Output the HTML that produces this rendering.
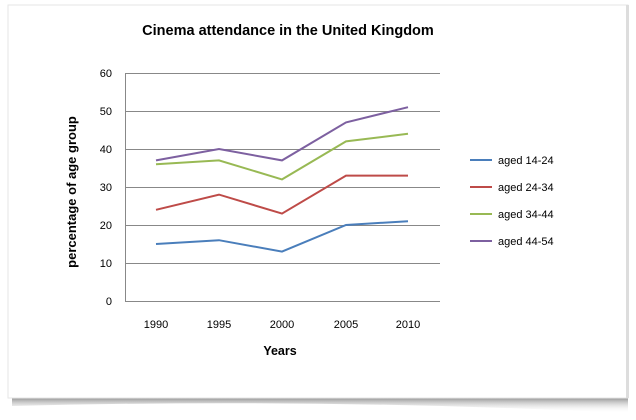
<!DOCTYPE html>
<html><head><style>
body{margin:0;width:636px;height:415px;background:#fff;overflow:hidden;font-family:"Liberation Sans",sans-serif}
</style></head><body>
<svg width="636" height="415" xmlns="http://www.w3.org/2000/svg">
<defs><linearGradient id="sh" x1="0" y1="0" x2="0" y2="1"><stop offset="0" stop-color="#888"/><stop offset="1" stop-color="#fff" stop-opacity="0"/></linearGradient></defs>
<rect x="0" y="0" width="636" height="415" fill="#fff"/>
<path d="M12 397 L628 397 L628 413 Q320 398 12 406 Z" fill="url(#sh)"/>
<rect x="8" y="5" width="620" height="393" fill="#fff" stroke="#e6e6e6" stroke-width="1"/>
<rect x="626" y="5" width="3" height="393" fill="#ddd"/>
<text x="288" y="35" text-anchor="middle" font-size="14.5" font-weight="bold">Cinema attendance in the United Kingdom</text>
<g stroke="#888" stroke-width="1">
<line x1="125" y1="73.5" x2="440" y2="73.5"/><line x1="125" y1="111.5" x2="440" y2="111.5"/>
<line x1="125" y1="149.5" x2="440" y2="149.5"/><line x1="125" y1="187.5" x2="440" y2="187.5"/>
<line x1="125" y1="225.5" x2="440" y2="225.5"/><line x1="125" y1="263.5" x2="440" y2="263.5"/>
<line x1="125" y1="301.5" x2="440" y2="301.5"/><line x1="125.5" y1="73" x2="125.5" y2="301"/>
</g>
<g font-size="11" fill="#000" text-anchor="end">
<text x="112" y="77">60</text><text x="112" y="115">50</text><text x="112" y="153">40</text>
<text x="112" y="191">30</text><text x="112" y="229">20</text><text x="112" y="267">10</text><text x="112" y="305">0</text>
</g>
<g font-size="11" text-anchor="middle">
<text x="156" y="328">1990</text><text x="219" y="328">1995</text><text x="282" y="328">2000</text><text x="346" y="328">2005</text><text x="408" y="328">2010</text>
</g>
<text x="280" y="355" text-anchor="middle" font-size="12.5" font-weight="bold">Years</text>
<text transform="translate(76,192) rotate(-90)" text-anchor="middle" font-size="13" font-weight="bold">percentage of age group</text>
<g fill="none" stroke-width="2">
<polyline stroke="#4a7ebb" points="156,244 219,240.2 282,251.6 346,225 408,221.2"/>
<polyline stroke="#be4b48" points="156,209.8 219,194.6 282,213.6 346,175.6 408,175.6"/>
<polyline stroke="#98b954" points="156,164.2 219,160.4 282,179.4 346,141.4 408,133.8"/>
<polyline stroke="#7d60a0" points="156,160.4 219,149 282,160.4 346,122.4 408,107.2"/>
</g>
<g stroke-width="2">
<line x1="470" y1="160" x2="492" y2="160" stroke="#4a7ebb"/>
<line x1="470" y1="187" x2="492" y2="187" stroke="#be4b48"/>
<line x1="470" y1="214" x2="492" y2="214" stroke="#98b954"/>
<line x1="470" y1="241" x2="492" y2="241" stroke="#7d60a0"/>
</g>
<g font-size="11">
<text x="498" y="164">aged 14-24</text><text x="498" y="191">aged 24-34</text>
<text x="498" y="218">aged 34-44</text><text x="498" y="245">aged 44-54</text>
</g>
</svg>
</body></html>
